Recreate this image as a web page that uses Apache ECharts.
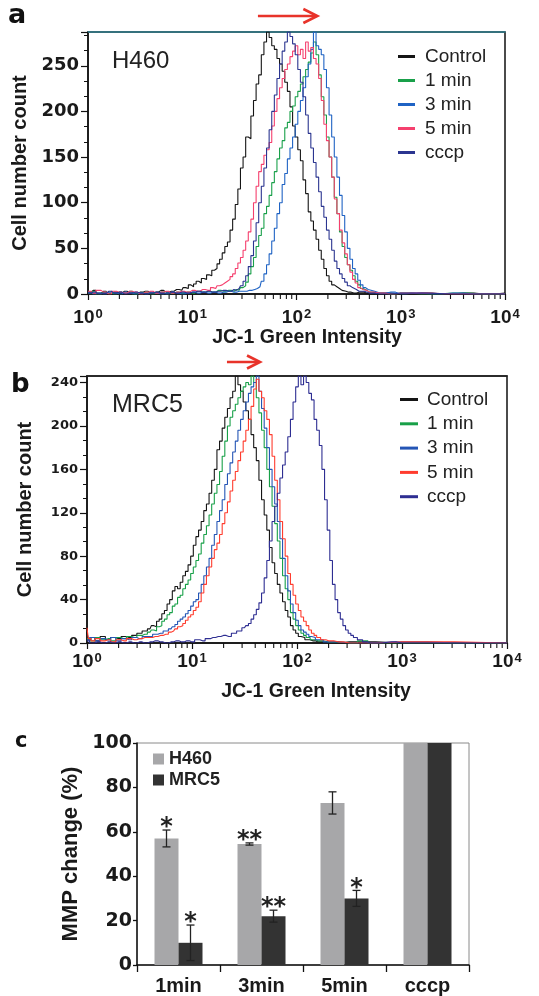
<!DOCTYPE html>
<html><head><meta charset="utf-8">
<script src="https://cdn.jsdelivr.net/npm/echarts@6/dist/echarts.min.js"></script>
<style>html,body{margin:0;padding:0;background:#fff}#c{width:539px;height:996px}</style>
</head><body><div id="c"></div>
<script>
// ---------- DATA ----------
// Histogram series: [log10(JC-1 green intensity), cell count]
const seriesNames = ['Control', '1 min', '3 min', '5 min', 'cccp'];

const aControl = [[0,2],[0.05,4],[0.1,1],[0.15,3],[0.2,0],[0.25,2],[0.3,1],[0.35,3],[0.4,1],[0.45,0],[0.5,2],[0.55,3],[0.6,1],[0.65,2],[0.7,4],[0.75,2],[0.8,3],[0.85,5],[0.9,4],
[0.925,7],[0.95,6],[0.975,10],[1.0,8],[1.025,11],[1.05,14],[1.075,12],[1.1,17],[1.125,16],[1.15,21],[1.175,20],[1.2,26],[1.225,28],[1.25,33],[1.275,38],[1.3,45],[1.325,52],[1.35,57],[1.375,70],[1.4,82],[1.425,98],[1.45,115],[1.475,138],[1.5,150],[1.525,172],[1.55,170],[1.575,195],[1.6,212],[1.625,230],[1.65,240],[1.675,262],[1.7,276],[1.725,287],[1.75,281],[1.775,272],[1.8,268],[1.825,258],[1.85,252],[1.875,244],[1.9,232],[1.925,222],[1.95,205],[1.975,184],[2.0,172],[2.025,158],[2.05,146],[2.075,125],[2.1,110],[2.125,90],[2.15,80],[2.175,70],[2.2,60],[2.225,48],[2.25,38],[2.275,28],[2.3,20],[2.325,14],[2.35,10],[2.375,8],[2.4,6],[2.425,4],[2.45,3],[2.5,2],[2.55,1],[2.6,2],[2.7,0],[2.8,1],[3.0,0],[3.2,1],[3.4,0],[3.6,1],[3.8,0],[4,1]];

const a1min = [[0,1],[0.05,3],[0.1,0],[0.15,2],[0.2,1],[0.25,0],[0.3,2],[0.35,1],[0.4,3],[0.45,0],[0.5,1],[0.55,2],[0.6,0],[0.65,1],[0.7,2],[0.75,0],[0.8,1],[0.85,2],[0.9,1],[0.95,2],[1.0,1],[1.05,3],[1.1,2],[1.15,3],[1.2,2],[1.25,4],[1.3,3],[1.35,4],[1.4,3],
[1.425,5],[1.45,4],[1.475,7],[1.5,9],[1.525,13],[1.55,22],[1.575,30],[1.6,40],[1.625,52],[1.65,64],[1.675,72],[1.7,88],[1.725,96],[1.75,108],[1.775,122],[1.8,134],[1.825,148],[1.85,160],[1.875,168],[1.9,182],[1.925,188],[1.95,200],[1.975,206],[2.0,216],[2.025,222],[2.05,230],[2.075,238],[2.1,246],[2.125,254],[2.15,264],[2.175,276],[2.2,262],[2.225,240],[2.25,216],[2.275,196],[2.3,172],[2.325,150],[2.35,128],[2.375,106],[2.4,88],[2.425,68],[2.45,52],[2.475,40],[2.5,32],[2.525,26],[2.55,20],[2.575,14],[2.6,10],[2.625,6],[2.65,4],[2.7,2],[2.8,1],[2.9,0],[3.0,1],[3.2,0],[3.5,1],[3.8,0],[4,0]];

const a3min = [[0,2],[0.05,0],[0.1,1],[0.15,0],[0.2,2],[0.25,1],[0.3,0],[0.35,2],[0.4,1],[0.45,0],[0.5,1],[0.55,0],[0.6,2],[0.65,1],[0.7,0],[0.75,1],[0.8,2],[0.85,1],[0.9,0],[0.95,1],[1.0,2],[1.05,1],[1.1,2],[1.15,1],[1.2,2],[1.25,1],[1.3,2],[1.35,3],[1.4,2],[1.45,3],[1.5,3],[1.55,4],[1.6,5],
[1.625,6],[1.65,8],[1.675,14],[1.7,22],[1.725,32],[1.75,44],[1.775,58],[1.8,72],[1.825,88],[1.85,100],[1.875,120],[1.9,132],[1.925,148],[1.95,160],[1.975,172],[2.0,186],[2.025,200],[2.05,212],[2.075,226],[2.1,238],[2.125,252],[2.15,268],[2.175,287],[2.2,272],[2.225,268],[2.25,262],[2.275,246],[2.3,226],[2.325,196],[2.35,172],[2.375,150],[2.4,128],[2.425,108],[2.45,86],[2.475,68],[2.5,50],[2.525,38],[2.55,28],[2.575,22],[2.6,15],[2.625,10],[2.65,7],[2.675,5],[2.7,3],[2.8,1],[2.9,2],[3.0,0],[3.1,1],[3.3,0],[3.5,1],[3.7,0],[4,0]];

const a5min = [[0,3],[0.05,1],[0.1,4],[0.15,2],[0.2,0],[0.25,3],[0.3,2],[0.35,1],[0.4,3],[0.45,2],[0.5,0],[0.55,2],[0.6,3],[0.65,1],[0.7,2],[0.75,3],[0.8,1],[0.85,2],[0.9,3],[0.95,2],[1.0,4],[1.05,3],[1.1,5],[1.15,4],[1.2,7],
[1.225,6],[1.25,9],[1.275,10],[1.3,12],[1.325,14],[1.35,16],[1.375,19],[1.4,22],[1.425,28],[1.45,34],[1.475,40],[1.5,48],[1.525,58],[1.55,68],[1.575,82],[1.6,100],[1.625,118],[1.65,134],[1.675,142],[1.7,152],[1.725,158],[1.75,166],[1.775,184],[1.8,200],[1.825,214],[1.85,226],[1.875,236],[1.9,246],[1.925,252],[1.95,260],[1.975,266],[2.0,272],[2.025,262],[2.05,268],[2.075,258],[2.1,276],[2.125,266],[2.15,270],[2.175,258],[2.2,252],[2.225,236],[2.25,212],[2.275,186],[2.3,168],[2.325,150],[2.35,128],[2.375,104],[2.4,88],[2.425,70],[2.45,56],[2.475,44],[2.5,32],[2.525,24],[2.55,16],[2.575,12],[2.6,7],[2.625,5],[2.65,4],[2.7,2],[2.8,1],[2.9,0],[3.0,1],[3.5,0],[4,0]];

const aCccp = [[0,1],[0.05,2],[0.1,0],[0.15,1],[0.2,3],[0.25,1],[0.3,2],[0.35,0],[0.4,1],[0.45,2],[0.5,1],[0.55,0],[0.6,1],[0.65,2],[0.7,1],[0.75,0],[0.8,2],[0.85,1],[0.9,2],[0.95,1],[1.0,2],[1.05,3],[1.1,2],[1.15,3],[1.2,2],[1.25,3],[1.3,4],[1.35,3],[1.4,5],
[1.425,4],[1.45,6],[1.475,9],[1.5,14],[1.525,20],[1.55,30],[1.575,42],[1.6,58],[1.625,78],[1.65,100],[1.675,118],[1.7,138],[1.725,160],[1.75,180],[1.775,200],[1.8,218],[1.825,236],[1.85,252],[1.875,266],[1.9,276],[1.925,287],[1.95,282],[1.975,274],[2.0,262],[2.025,246],[2.05,232],[2.075,216],[2.1,196],[2.125,176],[2.15,160],[2.175,144],[2.2,128],[2.225,112],[2.25,96],[2.275,84],[2.3,70],[2.325,60],[2.35,48],[2.375,36],[2.4,28],[2.425,22],[2.45,17],[2.475,13],[2.5,9],[2.525,7],[2.55,5],[2.6,3],[2.7,1],[2.8,0],[3.0,1],[3.5,0],[4,0]];

const bControl = [[0,10],[0.025,3],[0.05,5],[0.1,2],[0.15,6],[0.2,3],[0.25,5],[0.3,4],[0.35,6],[0.4,5],[0.45,7],[0.5,9],[0.55,11],[0.6,13],[0.625,16],[0.65,15],[0.675,20],[0.7,22],[0.725,27],[0.75,30],[0.775,36],[0.8,40],[0.825,48],[0.85,52],[0.875,50],[0.9,56],[0.925,62],[0.95,66],[0.975,72],[1.0,80],[1.025,90],[1.05,98],[1.075,104],[1.1,112],[1.125,122],[1.15,128],[1.175,138],[1.2,150],[1.225,160],[1.25,178],[1.275,186],[1.3,198],[1.325,208],[1.35,216],[1.375,226],[1.4,232],[1.425,246],[1.45,238],[1.475,232],[1.5,222],[1.525,214],[1.55,206],[1.575,192],[1.6,180],[1.625,168],[1.65,150],[1.675,132],[1.7,118],[1.725,104],[1.75,88],[1.775,74],[1.8,64],[1.825,54],[1.85,46],[1.875,38],[1.9,30],[1.925,24],[1.95,16],[1.975,12],[2.0,9],[2.025,6],[2.05,5],[2.1,3],[2.15,2],[2.2,1],[2.3,0],[2.5,1],[3.0,0],[3.5,0],[4,0]];

const b1min = [[0,4],[0.05,2],[0.1,5],[0.15,3],[0.2,4],[0.25,2],[0.3,5],[0.35,4],[0.4,6],[0.45,5],[0.5,7],[0.55,8],[0.6,10],[0.625,12],[0.65,11],[0.675,15],[0.7,16],[0.725,20],[0.75,22],[0.775,26],[0.8,28],[0.825,34],[0.85,36],[0.875,42],[0.9,44],[0.925,50],[0.95,54],[0.975,58],[1.0,64],[1.025,70],[1.05,76],[1.075,82],[1.1,92],[1.125,100],[1.15,108],[1.175,118],[1.2,128],[1.225,138],[1.25,146],[1.275,158],[1.3,172],[1.325,186],[1.35,200],[1.375,208],[1.4,214],[1.425,220],[1.45,226],[1.475,232],[1.5,236],[1.525,240],[1.55,238],[1.575,246],[1.6,240],[1.625,226],[1.65,212],[1.675,196],[1.7,180],[1.725,160],[1.75,144],[1.775,126],[1.8,110],[1.825,94],[1.85,78],[1.875,62],[1.9,50],[1.925,40],[1.95,28],[1.975,22],[2.0,16],[2.025,12],[2.05,9],[2.075,7],[2.1,5],[2.15,3],[2.2,2],[2.3,1],[2.5,0],[2.65,2],[2.7,0],[3.0,0],[4,0]];

const b3min = [[0,3],[0.05,5],[0.1,2],[0.15,4],[0.2,3],[0.25,5],[0.3,2],[0.35,4],[0.4,3],[0.45,5],[0.5,4],[0.55,6],[0.6,6],[0.65,8],[0.7,9],[0.75,11],[0.8,13],[0.825,15],[0.85,17],[0.875,20],[0.9,22],[0.925,24],[0.95,27],[0.975,30],[1.0,34],[1.025,38],[1.05,40],[1.075,46],[1.1,54],[1.125,62],[1.15,70],[1.175,78],[1.2,90],[1.225,100],[1.25,112],[1.275,122],[1.3,132],[1.325,146],[1.35,156],[1.375,166],[1.4,176],[1.425,186],[1.45,196],[1.475,206],[1.5,214],[1.525,222],[1.55,230],[1.575,236],[1.6,240],[1.625,246],[1.65,232],[1.675,216],[1.7,198],[1.725,180],[1.75,160],[1.775,144],[1.8,128],[1.825,112],[1.85,96],[1.875,78],[1.9,62],[1.925,48],[1.95,36],[1.975,28],[2.0,21],[2.025,16],[2.05,12],[2.075,10],[2.1,8],[2.125,6],[2.15,5],[2.2,3],[2.3,1],[2.5,0],[3.0,1],[3.5,0],[4,0]];

const b5min = [[0,14],[0.025,4],[0.05,2],[0.1,4],[0.15,2],[0.2,3],[0.25,1],[0.3,3],[0.35,2],[0.4,4],[0.45,3],[0.5,4],[0.55,5],[0.6,5],[0.65,6],[0.7,7],[0.75,8],[0.8,10],[0.825,11],[0.85,13],[0.875,15],[0.9,16],[0.925,18],[0.95,21],[0.975,24],[1.0,26],[1.025,30],[1.05,33],[1.075,38],[1.1,46],[1.125,54],[1.15,62],[1.175,70],[1.2,78],[1.225,86],[1.25,92],[1.275,100],[1.3,110],[1.325,120],[1.35,130],[1.375,140],[1.4,150],[1.425,158],[1.45,168],[1.475,176],[1.5,186],[1.525,196],[1.55,206],[1.575,218],[1.6,234],[1.625,243],[1.65,232],[1.675,226],[1.7,214],[1.725,206],[1.75,192],[1.775,172],[1.8,150],[1.825,132],[1.85,112],[1.875,96],[1.9,80],[1.925,64],[1.95,54],[1.975,44],[2.0,36],[2.025,30],[2.05,24],[2.075,20],[2.1,16],[2.125,12],[2.15,9],[2.175,7],[2.2,5],[2.25,3],[2.3,2],[2.4,1],[2.5,0],[3.0,1],[4,0]];

const bCccp = [[0,2],[0.05,0],[0.1,1],[0.15,0],[0.2,1],[0.25,0],[0.3,1],[0.35,0],[0.4,1],[0.45,0],[0.5,1],[0.55,0],[0.6,1],[0.65,2],[0.7,1],[0.75,0],[0.8,1],[0.85,2],[0.9,1],[0.95,2],[1.0,1],[1.05,3],[1.1,2],[1.15,4],[1.2,5],[1.25,6],[1.3,7],[1.35,6],[1.4,9],[1.45,11],[1.5,14],[1.525,16],[1.55,18],[1.575,22],[1.6,26],[1.625,31],[1.65,37],[1.675,46],[1.7,60],[1.725,76],[1.75,94],[1.775,112],[1.8,126],[1.825,138],[1.85,152],[1.875,164],[1.9,176],[1.925,190],[1.95,206],[1.975,222],[2.0,236],[2.025,246],[2.05,238],[2.075,246],[2.1,240],[2.125,230],[2.15,224],[2.175,206],[2.2,196],[2.225,182],[2.25,160],[2.275,132],[2.3,104],[2.325,76],[2.35,54],[2.375,40],[2.4,28],[2.425,22],[2.45,16],[2.475,12],[2.5,9],[2.525,7],[2.55,5],[2.6,3],[2.65,1],[2.7,0],[2.9,1],[3.0,0],[4,0]];

// Bar chart (panel c)
const barCategories = ['1min', '3min', '5min', 'cccp'];
const h460Mmp = [57, 54.5, 73, 100];
const mrc5Mmp = [10, 22, 30, 100];
const h460Err = [3.8, 0.5, 5, 0];
const mrc5Err = [8, 2.7, 3.6, 0];
const h460Sig = ['*', '**', '', ''];
const mrc5Sig = ['*', '**', '*', ''];

// Tick settings
const decadeLabels = [0, 1, 2, 3, 4];
const minorMultipliers = [2, 3, 4, 5, 6, 7, 8, 9];

// ---------- STYLE ----------
const colorsA = ['#151515', '#19a04a', '#1f63c4', '#f5406e', '#2b3590'];
const colorsB = ['#151515', '#18a048', '#2455b5', '#ff3c2e', '#2e2e92'];
const TXT = '#1a1a1a';
const LS = 'Liberation Sans';
const DJ = 'DejaVu Sans';

const minorTickData = [];
decadeLabels.slice(0, 4).forEach(d => minorMultipliers.forEach(m => minorTickData.push([d + Math.log10(m)])));

const chart = echarts.init(document.getElementById('c'), null, { renderer: 'canvas' });

function xLogAxis(grid, margin, nameGap, padLeft) {
  return {
    type: 'value', gridIndex: grid, min: 0, max: 4, interval: 1,
    axisLine: { show: true, onZero: false, lineStyle: { color: '#111', width: 1.5 } },
    axisTick: { show: true, length: 6, lineStyle: { color: '#111', width: 1.2 } },
    splitLine: { show: false },
    axisLabel: {
      margin: margin,
      formatter: v => decadeLabels.indexOf(v) >= 0 ? '{n|10}{s|' + v + '}' : '',
      rich: {
        n: { fontFamily: LS, fontWeight: 'bold', fontSize: 19, color: TXT },
        s: { fontFamily: LS, fontWeight: 'bold', fontSize: 13, color: TXT, verticalAlign: 'top', padding: [0, 0, 6, 1] }
      }
    },
    name: 'JC-1 Green Intensity', nameLocation: 'middle', nameGap: nameGap,
    nameTextStyle: { fontFamily: LS, fontWeight: 'bold', fontSize: 19.5, color: TXT, padding: [0, 0, 0, padLeft] }
  };
}
function xTopAxis(grid, color) {
  return {
    type: 'value', gridIndex: grid, min: 0, max: 4, position: 'top',
    axisLine: { show: true, onZero: false, lineStyle: { color: color, width: 1.5 } },
    axisTick: { show: false }, axisLabel: { show: false }, splitLine: { show: false }
  };
}
function yCountAxis(grid, max, interval, fontSize, nameGap, split) {
  return {
    type: 'value', gridIndex: grid, min: 0, max: max, interval: interval,
    axisLine: { show: true, lineStyle: { color: '#111', width: 1.5 } },
    axisTick: { show: true, length: 7, lineStyle: { color: '#111', width: 1.2 } },
    minorTick: { show: true, splitNumber: split, length: 4, lineStyle: { color: '#111', width: 1 } },
    splitLine: { show: false },
    axisLabel: { margin: 9, fontFamily: DJ, fontWeight: 'bold', fontSize: fontSize, color: TXT,
      formatter: v => (v % interval === 0 ? String(v) : '') },
    name: 'Cell number count', nameLocation: 'middle', nameGap: nameGap,
    nameTextStyle: { fontFamily: LS, fontWeight: 'bold', fontSize: 20, color: TXT }
  };
}

function histSeries(prefix, data, colors, xi, yi) {
  return data.map((d, i) => ({
    type: 'line', name: prefix + seriesNames[i], data: d, xAxisIndex: xi, yAxisIndex: yi,
    showSymbol: false, symbol: 'none', step: 'middle', clip: true,
    lineStyle: { color: colors[i], width: 1.1 }, itemStyle: { color: colors[i] },
    emphasis: { disabled: true }, silent: true
  }));
}

function minorTickSeries(xi, yi) {
  return {
    type: 'custom', xAxisIndex: xi, yAxisIndex: yi, silent: true, clip: false,
    data: minorTickData, encode: { x: 0 },
    renderItem: (params, api) => {
      const p = api.coord([api.value(0), 0]);
      return { type: 'line', shape: { x1: p[0], y1: p[1], x2: p[0], y2: p[1] + 5 },
        style: { stroke: '#111', lineWidth: 1.1 } };
    }
  };
}

function errSeries(values, errs, sigs, side) {
  return {
    type: 'custom', xAxisIndex: 4, yAxisIndex: 2, silent: true, clip: false, z: 5,
    data: values.map((v, i) => [i, v, errs[i], i]),
    renderItem: (params, api) => {
      const i = api.value(0), v = api.value(1), e = api.value(2);
      const c = api.coord([i, v]);
      const x = c[0] + side * 12;
      const top = api.coord([i, v + e])[1], bot = api.coord([i, v - e])[1];
      const children = [];
      if (e > 0) {
        children.push({ type: 'line', shape: { x1: x, y1: top, x2: x, y2: bot }, style: { stroke: '#222', lineWidth: 1.3 } });
        children.push({ type: 'line', shape: { x1: x - 4, y1: top, x2: x + 4, y2: top }, style: { stroke: '#222', lineWidth: 1.3 } });
        children.push({ type: 'line', shape: { x1: x - 4, y1: bot, x2: x + 4, y2: bot }, style: { stroke: '#222', lineWidth: 1.3 } });
      }
      const s = sigs[i];
      if (s) {
        children.push({ type: 'text', style: { text: s, x: x, y: top - 2, align: 'center', verticalAlign: 'middle',
          fontFamily: DJ, fontWeight: 'bold', fontSize: 24, fill: '#222' } });
      }
      return { type: 'group', children: children };
    }
  };
}

const option = {
  backgroundColor: '#ffffff',
  animation: false,
  textStyle: { fontFamily: LS },
  grid: [
    { left: 88, top: 32, width: 417, height: 262, show: true, borderColor: '#111', borderWidth: 1.5, backgroundColor: 'transparent' },
    { left: 87, top: 376, width: 420, height: 267, show: true, borderColor: '#111', borderWidth: 1.5, backgroundColor: 'transparent' },
    { left: 137, top: 743, width: 332, height: 222, show: true, borderColor: '#8a8a8a', borderWidth: 1, backgroundColor: 'transparent' }
  ],
  xAxis: [
    xLogAxis(0, 14, 33, 21),
    xTopAxis(0, '#2f7f8f'),
    xLogAxis(1, 9, 39, 38),
    xTopAxis(1, '#222'),
    {
      type: 'category', gridIndex: 2, data: barCategories,
      axisLine: { show: true, lineStyle: { color: '#111', width: 1.5 } },
      axisTick: { show: true, length: 7, lineStyle: { color: '#111', width: 1.3 } },
      axisLabel: { margin: 11, fontFamily: LS, fontWeight: 'bold', fontSize: 20, color: TXT }
    }
  ],
  yAxis: [
    yCountAxis(0, 287, 50, 18, 53, 3),
    yCountAxis(1, 246, 40, 13, 52, 3),
    {
      type: 'value', gridIndex: 2, min: 0, max: 100, interval: 20,
      axisLine: { show: true, lineStyle: { color: '#111', width: 1.5 } },
      axisTick: { show: true, length: 4, lineStyle: { color: '#111', width: 1.3 } },
      splitLine: { show: false },
      axisLabel: { margin: 5, fontFamily: DJ, fontWeight: 'bold', fontSize: 19, color: TXT },
      name: 'MMP change (%)', nameLocation: 'middle', nameGap: 54,
      nameTextStyle: { fontFamily: LS, fontWeight: 'bold', fontSize: 22, color: TXT }
    }
  ],
  legend: [
    { left: 398, top: 47, padding: 0, orient: 'vertical', icon: 'rect', itemWidth: 17, itemHeight: 3, itemGap: 5, selectedMode: false,
      data: seriesNames.map(n => 'a:' + n), formatter: n => n.slice(2),
      textStyle: { fontFamily: LS, fontSize: 19, color: '#222', padding: [0, 0, 0, 5] } },
    { left: 400, top: 390, padding: 0, orient: 'vertical', icon: 'rect', itemWidth: 18, itemHeight: 3, itemGap: 5.3, selectedMode: false,
      data: seriesNames.map(n => 'b:' + n), formatter: n => n.slice(2),
      textStyle: { fontFamily: LS, fontSize: 19, color: '#222', padding: [0, 0, 0, 4] } },
    { left: 153, top: 750, padding: 0, orient: 'vertical', icon: 'rect', itemWidth: 11, itemHeight: 11, itemGap: 3, selectedMode: false,
      data: ['H460', 'MRC5'],
      textStyle: { fontFamily: LS, fontWeight: 'bold', fontSize: 18, color: '#222' } }
  ],
  series: [
    ...histSeries('a:', [aControl, a1min, a3min, a5min, aCccp], colorsA, 0, 0),
    ...histSeries('b:', [bControl, b1min, b3min, b5min, bCccp], colorsB, 2, 1),
    minorTickSeries(0, 0),
    minorTickSeries(2, 1),
    { type: 'bar', name: 'H460', data: h460Mmp, xAxisIndex: 4, yAxisIndex: 2, barWidth: 24, barGap: '0%',
      itemStyle: { color: '#a7a7a9' }, silent: true },
    { type: 'bar', name: 'MRC5', data: mrc5Mmp, xAxisIndex: 4, yAxisIndex: 2, barWidth: 24, barGap: '0%',
      itemStyle: { color: '#333333' }, silent: true },
    errSeries(h460Mmp, h460Err, h460Sig, -1),
    errSeries(mrc5Mmp, mrc5Err, mrc5Sig, 1)
  ]
};
chart.setOption(option);

// Annotations: panel letters, cell-line names, red shift arrows (x from data scale)
const arrowA = [1.63, 2.2];
const arrowB = [1.333, 1.648];
function arrow(xi, range, y, head) {
  const x1 = chart.convertToPixel({ xAxisIndex: xi }, range[0]);
  const x2 = chart.convertToPixel({ xAxisIndex: xi }, range[1]);
  return {
    type: 'group', children: [
      { type: 'line', shape: { x1: x1, y1: y, x2: x2 - 1, y2: y }, style: { stroke: '#e8332a', lineWidth: 2.6 } },
      { type: 'polyline', shape: { points: [[x2 - head, y - head * 0.5], [x2, y], [x2 - head, y + head * 0.5]] },
        style: { stroke: '#e8332a', lineWidth: 2.6, fill: null } }
    ]
  };
}
chart.setOption({
  graphic: [
    { type: 'text', left: 8, top: 2, style: { text: 'a', fontFamily: DJ, fontWeight: 'bold', fontSize: 27, fill: '#111' } },
    { type: 'text', left: 11, top: 372, style: { text: 'b', fontFamily: DJ, fontWeight: 'bold', fontSize: 26, fill: '#111' } },
    { type: 'text', left: 15, top: 731, style: { text: 'c', fontFamily: DJ, fontWeight: 'bold', fontSize: 21, fill: '#111' } },
    { type: 'text', left: 112, top: 49, style: { text: 'H460', fontFamily: LS, fontSize: 24, fill: '#222' } },
    { type: 'text', left: 112, top: 393, style: { text: 'MRC5', fontFamily: LS, fontSize: 25, fill: '#222' } },
    arrow(0, arrowA, 16, 14),
    arrow(2, arrowB, 362, 13)
  ]
});
</script></body></html>
